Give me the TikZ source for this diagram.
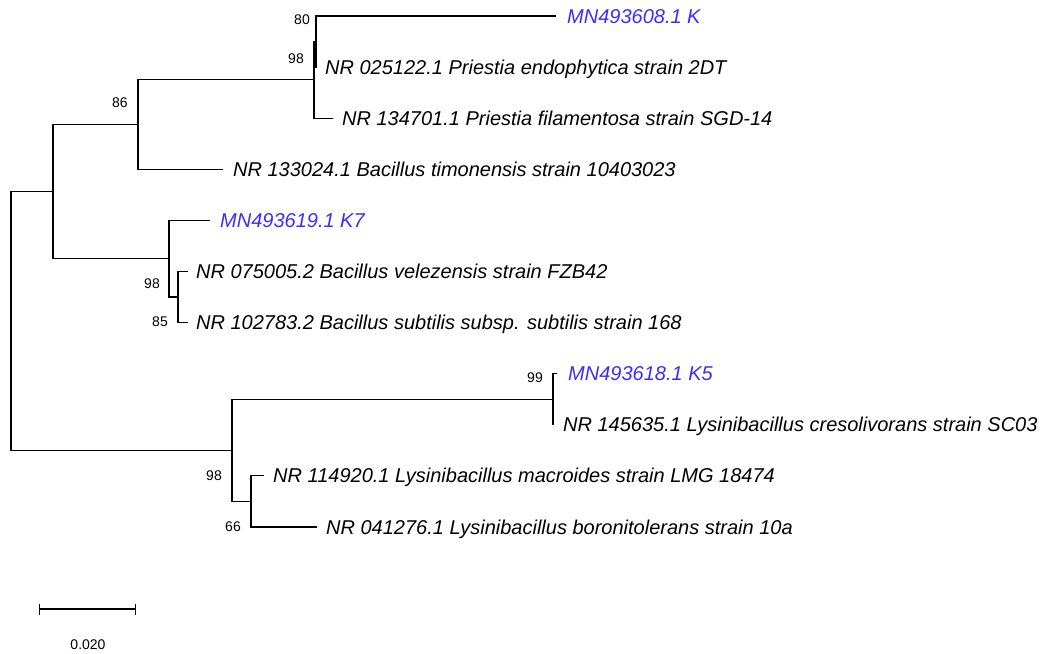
\documentclass[tikz,border=0pt]{standalone}
\usepackage{fontspec}
\setmainfont{Liberation Sans}
\usepackage{xcolor}
\usepackage{tikz}
\usetikzlibrary{arrows.meta,positioning,calc}
\definecolor{isoblue}{RGB}{60,45,255}

\begin{document}
\begin{tikzpicture}[x=1pt, y=-1pt,
    branch/.style={draw=black, line width=1.1pt},
    taxon/.style={anchor=base west, inner sep=0pt, font=\fontsize{20}{24}\selectfont\itshape},
    refseq/.style={taxon, text=black},
    isolate/.style={taxon, text=isoblue},
    boot/.style={inner sep=0pt, font=\fontsize{14}{16}\selectfont}
]
\useasboundingbox (0,0) rectangle (1043,653);

% --- internal nodes ---
\coordinate (root) at (11,321);
\coordinate (nUp) at (53,191.6);
\coordinate (n86) at (138,124.6);
\coordinate (n98a) at (314,79.9);
\coordinate (n80) at (316,41.5);
\coordinate (n98b) at (169,258.7);
\coordinate (n85) at (178,297);
\coordinate (n98c) at (232,450.3);
\coordinate (n99) at (553,399.2);
\coordinate (n66) at (251,501.4);

% --- leaves: tip of branch and taxon name ---
\foreach \i/\x/\tx/\sty/\txt in {
    1/556/567/isolate/{MN493608.1 K},
    2/317/325/refseq/{NR 025122.1 Priestia endophytica strain 2DT},
    3/333/342/refseq/{NR 134701.1 Priestia filamentosa strain SGD-14},
    4/223/233/refseq/{NR 133024.1 Bacillus timonensis strain 10403023},
    5/210/220/isolate/{MN493619.1 K7},
    6/188/196/refseq/{NR 075005.2 Bacillus velezensis strain FZB42},
    7/188/196/refseq/{NR 102783.2 Bacillus subtilis subsp. subtilis strain 168},
    8/557/568/isolate/{MN493618.1 K5},
    9/554/563/refseq/{NR 145635.1 Lysinibacillus cresolivorans strain SC03},
    10/264/273/refseq/{NR 114920.1 Lysinibacillus macroides strain LMG 18474},
    11/317/326/refseq/{NR 041276.1 Lysinibacillus boronitolerans strain 10a}} {
    \pgfmathsetmacro{\row}{16+51.1*(\i-1)}
    \coordinate (L\i) at (\x,\row);
    \node[\sty] (T\i) at (\tx,\row+7) {\txt};
}

% --- branches ---
\foreach \p/\c in {root/nUp, root/n98c, nUp/n86, nUp/n98b, n86/n98a, n86/L4,
                   n98a/n80, n98a/L3, n80/L1, n80/L2, n98b/L5, n98b/n85,
                   n85/L6, n85/L7, n98c/n99, n98c/n66, n99/L8, n99/L9,
                   n66/L10, n66/L11}
    \draw[branch] (\p) |- (\c);

% --- bootstrap values ---
\node[boot] (b80) at (302,20) {80};
\node[boot] (b98a) at (296,59) {98};
\node[boot] (b86) at (120,103) {86};
\node[boot] (b98b) at (152,284) {98};
\node[boot] (b85) at (160,322) {85};
\node[boot] (b99) at (535,378) {99};
\node[boot] (b98c) at (214,476) {98};
\node[boot] (b66) at (233,527) {66};

% --- scale bar ---
\coordinate (sbL) at (39,609);
\coordinate (sbR) at (136,609);
\draw[branch, {Bar[width=11pt]}-{Bar[width=11pt]}] (sbL) -- (sbR);
\node[boot] (sbText) at (88,645) {0.020};

\end{tikzpicture}
\end{document}
